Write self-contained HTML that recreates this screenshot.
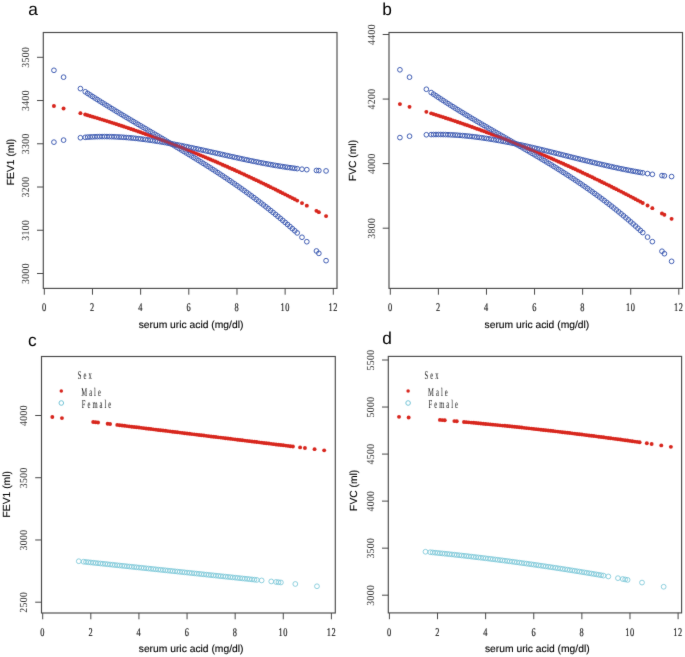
<!DOCTYPE html>
<html><head><meta charset="utf-8"><style>
html,body{margin:0;padding:0;background:#fff;}
body{width:685px;height:657px;overflow:hidden;}
svg{display:block;text-rendering:geometricPrecision;}
.tk{font-family:"Liberation Serif",serif;font-size:10.8px;fill:#111111;letter-spacing:0.4px;stroke:#111111;stroke-width:0.15px;}
.tkx{font-size:11.6px;letter-spacing:0.8px;}
.tky{stroke:none;fill:#3a3a3a;}
.ti{font-family:"Liberation Sans",sans-serif;font-size:10.3px;fill:#000000;stroke:#000000;stroke-width:0.12px;}
.lt{font-family:"Liberation Sans",sans-serif;font-size:17.3px;fill:#000000;}
.lg{font-family:"Liberation Serif",serif;font-size:11.8px;fill:#111;letter-spacing:3.55px;}
</style></head><body>
<svg width="685" height="657" viewBox="0 0 685 657">
<defs><filter id="bl" x="-2%" y="-2%" width="104%" height="104%"><feConvolveMatrix order="3" kernelMatrix="0.0064 0.0672 0.0064 0.0672 0.7056 0.0672 0.0064 0.0672 0.0064" edgeMode="none" preserveAlpha="false"/></filter></defs>
<rect width="685" height="657" fill="#fff"/>
<g filter="url(#bl)">
<rect x="43.3" y="32.5" width="293.70" height="255.90" fill="none" stroke="#4a4a4a" stroke-width="1.15"/>
<line x1="44.30" y1="288.4" x2="44.30" y2="294.70" stroke="#4a4a4a" stroke-width="1"/>
<text x="0" y="0" class="tk tkx" text-anchor="middle" transform="translate(44.30,311.00) scale(0.72,1)">0</text>
<line x1="92.47" y1="288.4" x2="92.47" y2="294.70" stroke="#4a4a4a" stroke-width="1"/>
<text x="0" y="0" class="tk tkx" text-anchor="middle" transform="translate(92.47,311.00) scale(0.72,1)">2</text>
<line x1="140.63" y1="288.4" x2="140.63" y2="294.70" stroke="#4a4a4a" stroke-width="1"/>
<text x="0" y="0" class="tk tkx" text-anchor="middle" transform="translate(140.63,311.00) scale(0.72,1)">4</text>
<line x1="188.80" y1="288.4" x2="188.80" y2="294.70" stroke="#4a4a4a" stroke-width="1"/>
<text x="0" y="0" class="tk tkx" text-anchor="middle" transform="translate(188.80,311.00) scale(0.72,1)">6</text>
<line x1="236.97" y1="288.4" x2="236.97" y2="294.70" stroke="#4a4a4a" stroke-width="1"/>
<text x="0" y="0" class="tk tkx" text-anchor="middle" transform="translate(236.97,311.00) scale(0.72,1)">8</text>
<line x1="285.13" y1="288.4" x2="285.13" y2="294.70" stroke="#4a4a4a" stroke-width="1"/>
<text x="0" y="0" class="tk tkx" text-anchor="middle" transform="translate(285.13,311.00) scale(0.72,1)">10</text>
<line x1="333.30" y1="288.4" x2="333.30" y2="294.70" stroke="#4a4a4a" stroke-width="1"/>
<text x="0" y="0" class="tk tkx" text-anchor="middle" transform="translate(333.30,311.00) scale(0.72,1)">12</text>
<line x1="37.00" y1="273.50" x2="43.3" y2="273.50" stroke="#4a4a4a" stroke-width="1"/>
<text x="0" y="0" class="tk tky" text-anchor="middle" transform="translate(28.90,273.50) rotate(-90) scale(0.9,1)">3000</text>
<line x1="37.00" y1="230.26" x2="43.3" y2="230.26" stroke="#4a4a4a" stroke-width="1"/>
<text x="0" y="0" class="tk tky" text-anchor="middle" transform="translate(28.90,230.26) rotate(-90) scale(0.9,1)">3100</text>
<line x1="37.00" y1="187.02" x2="43.3" y2="187.02" stroke="#4a4a4a" stroke-width="1"/>
<text x="0" y="0" class="tk tky" text-anchor="middle" transform="translate(28.90,187.02) rotate(-90) scale(0.9,1)">3200</text>
<line x1="37.00" y1="143.78" x2="43.3" y2="143.78" stroke="#4a4a4a" stroke-width="1"/>
<text x="0" y="0" class="tk tky" text-anchor="middle" transform="translate(28.90,143.78) rotate(-90) scale(0.9,1)">3300</text>
<line x1="37.00" y1="100.54" x2="43.3" y2="100.54" stroke="#4a4a4a" stroke-width="1"/>
<text x="0" y="0" class="tk tky" text-anchor="middle" transform="translate(28.90,100.54) rotate(-90) scale(0.9,1)">3400</text>
<line x1="37.00" y1="57.30" x2="43.3" y2="57.30" stroke="#4a4a4a" stroke-width="1"/>
<text x="0" y="0" class="tk tky" text-anchor="middle" transform="translate(28.90,57.30) rotate(-90) scale(0.9,1)">3500</text>
<text x="0" y="0" class="ti" text-anchor="middle" transform="translate(13.60,162.00) rotate(-90)">FEV1 (ml)</text>
<text x="191.00" y="327.50" class="ti" text-anchor="middle">serum uric acid (mg/dl)</text>
<text x="28.3" y="15.3" class="lt">a</text>
<g fill="#d8261e" stroke="none" opacity="1.0"><circle cx="53.93" cy="105.99" r="1.95"/><circle cx="63.57" cy="108.51" r="1.95"/><circle cx="80.42" cy="113.16" r="1.95"/><circle cx="85.24" cy="114.55" r="1.95"/><circle cx="87.65" cy="115.25" r="1.95"/><circle cx="90.06" cy="115.96" r="1.95"/><circle cx="92.47" cy="116.67" r="1.95"/><circle cx="94.88" cy="117.39" r="1.95"/><circle cx="97.28" cy="118.12" r="1.95"/><circle cx="99.69" cy="118.85" r="1.95"/><circle cx="102.10" cy="119.59" r="1.95"/><circle cx="104.51" cy="120.34" r="1.95"/><circle cx="106.92" cy="121.09" r="1.95"/><circle cx="109.33" cy="121.85" r="1.95"/><circle cx="111.73" cy="122.62" r="1.95"/><circle cx="114.14" cy="123.39" r="1.95"/><circle cx="116.55" cy="124.17" r="1.95"/><circle cx="118.96" cy="124.95" r="1.95"/><circle cx="121.37" cy="125.74" r="1.95"/><circle cx="123.77" cy="126.54" r="1.95"/><circle cx="126.18" cy="127.34" r="1.95"/><circle cx="128.59" cy="128.15" r="1.95"/><circle cx="131.00" cy="128.97" r="1.95"/><circle cx="133.41" cy="129.79" r="1.95"/><circle cx="135.82" cy="130.62" r="1.95"/><circle cx="138.22" cy="131.46" r="1.95"/><circle cx="140.63" cy="132.30" r="1.95"/><circle cx="143.04" cy="133.15" r="1.95"/><circle cx="145.45" cy="134.00" r="1.95"/><circle cx="147.86" cy="134.86" r="1.95"/><circle cx="150.27" cy="135.73" r="1.95"/><circle cx="152.68" cy="136.60" r="1.95"/><circle cx="155.08" cy="137.48" r="1.95"/><circle cx="157.49" cy="138.37" r="1.95"/><circle cx="159.90" cy="139.26" r="1.95"/><circle cx="162.31" cy="140.16" r="1.95"/><circle cx="164.72" cy="141.06" r="1.95"/><circle cx="167.12" cy="141.97" r="1.95"/><circle cx="169.53" cy="142.89" r="1.95"/><circle cx="171.94" cy="143.81" r="1.95"/><circle cx="174.35" cy="144.74" r="1.95"/><circle cx="176.76" cy="145.68" r="1.95"/><circle cx="179.17" cy="146.62" r="1.95"/><circle cx="181.57" cy="147.57" r="1.95"/><circle cx="183.98" cy="148.53" r="1.95"/><circle cx="186.39" cy="149.49" r="1.95"/><circle cx="188.80" cy="150.46" r="1.95"/><circle cx="191.21" cy="151.43" r="1.95"/><circle cx="193.62" cy="152.41" r="1.95"/><circle cx="196.02" cy="153.40" r="1.95"/><circle cx="198.43" cy="154.39" r="1.95"/><circle cx="200.84" cy="155.39" r="1.95"/><circle cx="203.25" cy="156.40" r="1.95"/><circle cx="205.66" cy="157.41" r="1.95"/><circle cx="208.07" cy="158.43" r="1.95"/><circle cx="210.48" cy="159.46" r="1.95"/><circle cx="212.88" cy="160.49" r="1.95"/><circle cx="215.29" cy="161.52" r="1.95"/><circle cx="217.70" cy="162.57" r="1.95"/><circle cx="220.11" cy="163.62" r="1.95"/><circle cx="222.52" cy="164.68" r="1.95"/><circle cx="224.93" cy="165.74" r="1.95"/><circle cx="227.33" cy="166.81" r="1.95"/><circle cx="229.74" cy="167.88" r="1.95"/><circle cx="232.15" cy="168.97" r="1.95"/><circle cx="234.56" cy="170.05" r="1.95"/><circle cx="236.97" cy="171.15" r="1.95"/><circle cx="239.38" cy="172.25" r="1.95"/><circle cx="241.78" cy="173.36" r="1.95"/><circle cx="244.19" cy="174.47" r="1.95"/><circle cx="246.60" cy="175.59" r="1.95"/><circle cx="249.01" cy="176.72" r="1.95"/><circle cx="251.42" cy="177.85" r="1.95"/><circle cx="253.82" cy="178.99" r="1.95"/><circle cx="256.23" cy="180.14" r="1.95"/><circle cx="258.64" cy="181.29" r="1.95"/><circle cx="261.05" cy="182.45" r="1.95"/><circle cx="263.46" cy="183.61" r="1.95"/><circle cx="265.87" cy="184.78" r="1.95"/><circle cx="268.27" cy="185.96" r="1.95"/><circle cx="270.68" cy="187.14" r="1.95"/><circle cx="273.09" cy="188.33" r="1.95"/><circle cx="275.50" cy="189.53" r="1.95"/><circle cx="277.91" cy="190.73" r="1.95"/><circle cx="280.32" cy="191.94" r="1.95"/><circle cx="282.72" cy="193.15" r="1.95"/><circle cx="285.13" cy="194.38" r="1.95"/><circle cx="287.54" cy="195.60" r="1.95"/><circle cx="289.95" cy="196.84" r="1.95"/><circle cx="292.36" cy="198.08" r="1.95"/><circle cx="294.77" cy="199.32" r="1.95"/><circle cx="297.18" cy="200.58" r="1.95"/><circle cx="301.99" cy="203.10" r="1.95"/><circle cx="306.81" cy="205.65" r="1.95"/><circle cx="316.44" cy="210.83" r="1.95"/><circle cx="318.85" cy="212.14" r="1.95"/><circle cx="326.07" cy="216.11" r="1.95"/></g>
<g fill="none" stroke="#3f5cb2" stroke-width="1.0"><circle cx="53.93" cy="142.14" r="2.35"/><circle cx="63.57" cy="140.12" r="2.35"/><circle cx="80.42" cy="137.74" r="2.35"/><circle cx="85.24" cy="137.31" r="2.35"/><circle cx="87.65" cy="137.13" r="2.35"/><circle cx="90.06" cy="136.98" r="2.35"/><circle cx="92.47" cy="136.86" r="2.35"/><circle cx="94.88" cy="136.76" r="2.35"/><circle cx="97.28" cy="136.68" r="2.35"/><circle cx="99.69" cy="136.63" r="2.35"/><circle cx="102.10" cy="136.60" r="2.35"/><circle cx="104.51" cy="136.60" r="2.35"/><circle cx="106.92" cy="136.61" r="2.35"/><circle cx="109.33" cy="136.65" r="2.35"/><circle cx="111.73" cy="136.71" r="2.35"/><circle cx="114.14" cy="136.79" r="2.35"/><circle cx="116.55" cy="136.90" r="2.35"/><circle cx="118.96" cy="137.02" r="2.35"/><circle cx="121.37" cy="137.16" r="2.35"/><circle cx="123.77" cy="137.32" r="2.35"/><circle cx="126.18" cy="137.50" r="2.35"/><circle cx="128.59" cy="137.70" r="2.35"/><circle cx="131.00" cy="137.91" r="2.35"/><circle cx="133.41" cy="138.14" r="2.35"/><circle cx="135.82" cy="138.39" r="2.35"/><circle cx="138.22" cy="138.66" r="2.35"/><circle cx="140.63" cy="138.94" r="2.35"/><circle cx="143.04" cy="139.24" r="2.35"/><circle cx="145.45" cy="139.55" r="2.35"/><circle cx="147.86" cy="139.88" r="2.35"/><circle cx="150.27" cy="140.21" r="2.35"/><circle cx="152.68" cy="140.57" r="2.35"/><circle cx="155.08" cy="140.93" r="2.35"/><circle cx="157.49" cy="141.31" r="2.35"/><circle cx="159.90" cy="141.70" r="2.35"/><circle cx="162.31" cy="142.11" r="2.35"/><circle cx="164.72" cy="142.52" r="2.35"/><circle cx="167.12" cy="142.95" r="2.35"/><circle cx="169.53" cy="143.38" r="2.35"/><circle cx="171.94" cy="143.82" r="2.35"/><circle cx="174.35" cy="144.28" r="2.35"/><circle cx="176.76" cy="144.74" r="2.35"/><circle cx="179.17" cy="145.21" r="2.35"/><circle cx="181.57" cy="145.69" r="2.35"/><circle cx="183.98" cy="146.17" r="2.35"/><circle cx="186.39" cy="146.67" r="2.35"/><circle cx="188.80" cy="147.17" r="2.35"/><circle cx="191.21" cy="147.67" r="2.35"/><circle cx="193.62" cy="148.18" r="2.35"/><circle cx="196.02" cy="148.70" r="2.35"/><circle cx="198.43" cy="149.22" r="2.35"/><circle cx="200.84" cy="149.74" r="2.35"/><circle cx="203.25" cy="150.27" r="2.35"/><circle cx="205.66" cy="150.80" r="2.35"/><circle cx="208.07" cy="151.33" r="2.35"/><circle cx="210.48" cy="151.87" r="2.35"/><circle cx="212.88" cy="152.41" r="2.35"/><circle cx="215.29" cy="152.94" r="2.35"/><circle cx="217.70" cy="153.48" r="2.35"/><circle cx="220.11" cy="154.02" r="2.35"/><circle cx="222.52" cy="154.56" r="2.35"/><circle cx="224.93" cy="155.10" r="2.35"/><circle cx="227.33" cy="155.64" r="2.35"/><circle cx="229.74" cy="156.18" r="2.35"/><circle cx="232.15" cy="156.71" r="2.35"/><circle cx="234.56" cy="157.24" r="2.35"/><circle cx="236.97" cy="157.77" r="2.35"/><circle cx="239.38" cy="158.29" r="2.35"/><circle cx="241.78" cy="158.82" r="2.35"/><circle cx="244.19" cy="159.33" r="2.35"/><circle cx="246.60" cy="159.84" r="2.35"/><circle cx="249.01" cy="160.35" r="2.35"/><circle cx="251.42" cy="160.85" r="2.35"/><circle cx="253.82" cy="161.35" r="2.35"/><circle cx="256.23" cy="161.83" r="2.35"/><circle cx="258.64" cy="162.31" r="2.35"/><circle cx="261.05" cy="162.79" r="2.35"/><circle cx="263.46" cy="163.25" r="2.35"/><circle cx="265.87" cy="163.71" r="2.35"/><circle cx="268.27" cy="164.16" r="2.35"/><circle cx="270.68" cy="164.59" r="2.35"/><circle cx="273.09" cy="165.02" r="2.35"/><circle cx="275.50" cy="165.44" r="2.35"/><circle cx="277.91" cy="165.84" r="2.35"/><circle cx="280.32" cy="166.24" r="2.35"/><circle cx="282.72" cy="166.62" r="2.35"/><circle cx="285.13" cy="166.99" r="2.35"/><circle cx="287.54" cy="167.35" r="2.35"/><circle cx="289.95" cy="167.69" r="2.35"/><circle cx="292.36" cy="168.02" r="2.35"/><circle cx="294.77" cy="168.34" r="2.35"/><circle cx="297.18" cy="168.64" r="2.35"/><circle cx="301.99" cy="169.19" r="2.35"/><circle cx="306.81" cy="169.68" r="2.35"/><circle cx="316.44" cy="170.46" r="2.35"/><circle cx="318.85" cy="170.60" r="2.35"/><circle cx="326.07" cy="170.93" r="2.35"/></g>
<g fill="none" stroke="#3f5cb2" stroke-width="1.0"><circle cx="53.93" cy="70.29" r="2.35"/><circle cx="63.57" cy="77.16" r="2.35"/><circle cx="80.42" cy="88.63" r="2.35"/><circle cx="85.24" cy="91.80" r="2.35"/><circle cx="87.65" cy="93.37" r="2.35"/><circle cx="90.06" cy="94.92" r="2.35"/><circle cx="92.47" cy="96.46" r="2.35"/><circle cx="94.88" cy="98.00" r="2.35"/><circle cx="97.28" cy="99.52" r="2.35"/><circle cx="99.69" cy="101.04" r="2.35"/><circle cx="102.10" cy="102.55" r="2.35"/><circle cx="104.51" cy="104.05" r="2.35"/><circle cx="106.92" cy="105.54" r="2.35"/><circle cx="109.33" cy="107.02" r="2.35"/><circle cx="111.73" cy="108.50" r="2.35"/><circle cx="114.14" cy="109.97" r="2.35"/><circle cx="116.55" cy="111.43" r="2.35"/><circle cx="118.96" cy="112.89" r="2.35"/><circle cx="121.37" cy="114.34" r="2.35"/><circle cx="123.77" cy="115.79" r="2.35"/><circle cx="126.18" cy="117.23" r="2.35"/><circle cx="128.59" cy="118.67" r="2.35"/><circle cx="131.00" cy="120.10" r="2.35"/><circle cx="133.41" cy="121.53" r="2.35"/><circle cx="135.82" cy="122.96" r="2.35"/><circle cx="138.22" cy="124.38" r="2.35"/><circle cx="140.63" cy="125.81" r="2.35"/><circle cx="143.04" cy="127.23" r="2.35"/><circle cx="145.45" cy="128.65" r="2.35"/><circle cx="147.86" cy="130.07" r="2.35"/><circle cx="150.27" cy="131.49" r="2.35"/><circle cx="152.68" cy="132.90" r="2.35"/><circle cx="155.08" cy="134.32" r="2.35"/><circle cx="157.49" cy="135.74" r="2.35"/><circle cx="159.90" cy="137.16" r="2.35"/><circle cx="162.31" cy="138.58" r="2.35"/><circle cx="164.72" cy="140.00" r="2.35"/><circle cx="167.12" cy="141.43" r="2.35"/><circle cx="169.53" cy="142.86" r="2.35"/><circle cx="171.94" cy="144.29" r="2.35"/><circle cx="174.35" cy="145.72" r="2.35"/><circle cx="176.76" cy="147.16" r="2.35"/><circle cx="179.17" cy="148.60" r="2.35"/><circle cx="181.57" cy="150.05" r="2.35"/><circle cx="183.98" cy="151.50" r="2.35"/><circle cx="186.39" cy="152.96" r="2.35"/><circle cx="188.80" cy="154.42" r="2.35"/><circle cx="191.21" cy="155.89" r="2.35"/><circle cx="193.62" cy="157.37" r="2.35"/><circle cx="196.02" cy="158.85" r="2.35"/><circle cx="198.43" cy="160.34" r="2.35"/><circle cx="200.84" cy="161.84" r="2.35"/><circle cx="203.25" cy="163.35" r="2.35"/><circle cx="205.66" cy="164.86" r="2.35"/><circle cx="208.07" cy="166.39" r="2.35"/><circle cx="210.48" cy="167.92" r="2.35"/><circle cx="212.88" cy="169.46" r="2.35"/><circle cx="215.29" cy="171.02" r="2.35"/><circle cx="217.70" cy="172.58" r="2.35"/><circle cx="220.11" cy="174.16" r="2.35"/><circle cx="222.52" cy="175.75" r="2.35"/><circle cx="224.93" cy="177.35" r="2.35"/><circle cx="227.33" cy="178.96" r="2.35"/><circle cx="229.74" cy="180.58" r="2.35"/><circle cx="232.15" cy="182.22" r="2.35"/><circle cx="234.56" cy="183.87" r="2.35"/><circle cx="236.97" cy="185.54" r="2.35"/><circle cx="239.38" cy="187.22" r="2.35"/><circle cx="241.78" cy="188.91" r="2.35"/><circle cx="244.19" cy="190.62" r="2.35"/><circle cx="246.60" cy="192.35" r="2.35"/><circle cx="249.01" cy="194.09" r="2.35"/><circle cx="251.42" cy="195.85" r="2.35"/><circle cx="253.82" cy="197.62" r="2.35"/><circle cx="256.23" cy="199.41" r="2.35"/><circle cx="258.64" cy="201.22" r="2.35"/><circle cx="261.05" cy="203.05" r="2.35"/><circle cx="263.46" cy="204.90" r="2.35"/><circle cx="265.87" cy="206.76" r="2.35"/><circle cx="268.27" cy="208.64" r="2.35"/><circle cx="270.68" cy="210.55" r="2.35"/><circle cx="273.09" cy="212.47" r="2.35"/><circle cx="275.50" cy="214.42" r="2.35"/><circle cx="277.91" cy="216.38" r="2.35"/><circle cx="280.32" cy="218.37" r="2.35"/><circle cx="282.72" cy="220.37" r="2.35"/><circle cx="285.13" cy="222.40" r="2.35"/><circle cx="287.54" cy="224.46" r="2.35"/><circle cx="289.95" cy="226.53" r="2.35"/><circle cx="292.36" cy="228.63" r="2.35"/><circle cx="294.77" cy="230.75" r="2.35"/><circle cx="297.18" cy="232.90" r="2.35"/><circle cx="301.99" cy="237.26" r="2.35"/><circle cx="306.81" cy="241.73" r="2.35"/><circle cx="316.44" cy="250.98" r="2.35"/><circle cx="318.85" cy="253.36" r="2.35"/><circle cx="326.07" cy="260.67" r="2.35"/></g>
<g fill="#d8261e" stroke="none" opacity="0.6"><circle cx="53.93" cy="105.99" r="1.6"/><circle cx="63.57" cy="108.51" r="1.6"/><circle cx="80.42" cy="113.16" r="1.6"/><circle cx="85.24" cy="114.55" r="1.6"/><circle cx="87.65" cy="115.25" r="1.6"/><circle cx="90.06" cy="115.96" r="1.6"/><circle cx="92.47" cy="116.67" r="1.6"/><circle cx="94.88" cy="117.39" r="1.6"/><circle cx="97.28" cy="118.12" r="1.6"/><circle cx="99.69" cy="118.85" r="1.6"/><circle cx="102.10" cy="119.59" r="1.6"/><circle cx="104.51" cy="120.34" r="1.6"/><circle cx="106.92" cy="121.09" r="1.6"/><circle cx="109.33" cy="121.85" r="1.6"/><circle cx="111.73" cy="122.62" r="1.6"/><circle cx="114.14" cy="123.39" r="1.6"/><circle cx="116.55" cy="124.17" r="1.6"/><circle cx="118.96" cy="124.95" r="1.6"/><circle cx="121.37" cy="125.74" r="1.6"/><circle cx="123.77" cy="126.54" r="1.6"/><circle cx="126.18" cy="127.34" r="1.6"/><circle cx="128.59" cy="128.15" r="1.6"/><circle cx="131.00" cy="128.97" r="1.6"/><circle cx="133.41" cy="129.79" r="1.6"/><circle cx="135.82" cy="130.62" r="1.6"/><circle cx="138.22" cy="131.46" r="1.6"/><circle cx="140.63" cy="132.30" r="1.6"/><circle cx="143.04" cy="133.15" r="1.6"/><circle cx="145.45" cy="134.00" r="1.6"/><circle cx="147.86" cy="134.86" r="1.6"/><circle cx="150.27" cy="135.73" r="1.6"/><circle cx="152.68" cy="136.60" r="1.6"/><circle cx="155.08" cy="137.48" r="1.6"/><circle cx="157.49" cy="138.37" r="1.6"/><circle cx="159.90" cy="139.26" r="1.6"/><circle cx="162.31" cy="140.16" r="1.6"/><circle cx="164.72" cy="141.06" r="1.6"/><circle cx="167.12" cy="141.97" r="1.6"/><circle cx="169.53" cy="142.89" r="1.6"/><circle cx="171.94" cy="143.81" r="1.6"/><circle cx="174.35" cy="144.74" r="1.6"/><circle cx="176.76" cy="145.68" r="1.6"/><circle cx="179.17" cy="146.62" r="1.6"/><circle cx="181.57" cy="147.57" r="1.6"/><circle cx="183.98" cy="148.53" r="1.6"/><circle cx="186.39" cy="149.49" r="1.6"/><circle cx="188.80" cy="150.46" r="1.6"/><circle cx="191.21" cy="151.43" r="1.6"/><circle cx="193.62" cy="152.41" r="1.6"/><circle cx="196.02" cy="153.40" r="1.6"/><circle cx="198.43" cy="154.39" r="1.6"/><circle cx="200.84" cy="155.39" r="1.6"/><circle cx="203.25" cy="156.40" r="1.6"/><circle cx="205.66" cy="157.41" r="1.6"/><circle cx="208.07" cy="158.43" r="1.6"/><circle cx="210.48" cy="159.46" r="1.6"/><circle cx="212.88" cy="160.49" r="1.6"/><circle cx="215.29" cy="161.52" r="1.6"/><circle cx="217.70" cy="162.57" r="1.6"/><circle cx="220.11" cy="163.62" r="1.6"/><circle cx="222.52" cy="164.68" r="1.6"/><circle cx="224.93" cy="165.74" r="1.6"/><circle cx="227.33" cy="166.81" r="1.6"/><circle cx="229.74" cy="167.88" r="1.6"/><circle cx="232.15" cy="168.97" r="1.6"/><circle cx="234.56" cy="170.05" r="1.6"/><circle cx="236.97" cy="171.15" r="1.6"/><circle cx="239.38" cy="172.25" r="1.6"/><circle cx="241.78" cy="173.36" r="1.6"/><circle cx="244.19" cy="174.47" r="1.6"/><circle cx="246.60" cy="175.59" r="1.6"/><circle cx="249.01" cy="176.72" r="1.6"/><circle cx="251.42" cy="177.85" r="1.6"/><circle cx="253.82" cy="178.99" r="1.6"/><circle cx="256.23" cy="180.14" r="1.6"/><circle cx="258.64" cy="181.29" r="1.6"/><circle cx="261.05" cy="182.45" r="1.6"/><circle cx="263.46" cy="183.61" r="1.6"/><circle cx="265.87" cy="184.78" r="1.6"/><circle cx="268.27" cy="185.96" r="1.6"/><circle cx="270.68" cy="187.14" r="1.6"/><circle cx="273.09" cy="188.33" r="1.6"/><circle cx="275.50" cy="189.53" r="1.6"/><circle cx="277.91" cy="190.73" r="1.6"/><circle cx="280.32" cy="191.94" r="1.6"/><circle cx="282.72" cy="193.15" r="1.6"/><circle cx="285.13" cy="194.38" r="1.6"/><circle cx="287.54" cy="195.60" r="1.6"/><circle cx="289.95" cy="196.84" r="1.6"/><circle cx="292.36" cy="198.08" r="1.6"/><circle cx="294.77" cy="199.32" r="1.6"/><circle cx="297.18" cy="200.58" r="1.6"/><circle cx="301.99" cy="203.10" r="1.6"/><circle cx="306.81" cy="205.65" r="1.6"/><circle cx="316.44" cy="210.83" r="1.6"/><circle cx="318.85" cy="212.14" r="1.6"/><circle cx="326.07" cy="216.11" r="1.6"/></g>
<rect x="389.0" y="32.5" width="293.50" height="255.90" fill="none" stroke="#4a4a4a" stroke-width="1.15"/>
<line x1="390.30" y1="288.4" x2="390.30" y2="294.70" stroke="#4a4a4a" stroke-width="1"/>
<text x="0" y="0" class="tk tkx" text-anchor="middle" transform="translate(390.30,311.00) scale(0.72,1)">0</text>
<line x1="438.38" y1="288.4" x2="438.38" y2="294.70" stroke="#4a4a4a" stroke-width="1"/>
<text x="0" y="0" class="tk tkx" text-anchor="middle" transform="translate(438.38,311.00) scale(0.72,1)">2</text>
<line x1="486.47" y1="288.4" x2="486.47" y2="294.70" stroke="#4a4a4a" stroke-width="1"/>
<text x="0" y="0" class="tk tkx" text-anchor="middle" transform="translate(486.47,311.00) scale(0.72,1)">4</text>
<line x1="534.55" y1="288.4" x2="534.55" y2="294.70" stroke="#4a4a4a" stroke-width="1"/>
<text x="0" y="0" class="tk tkx" text-anchor="middle" transform="translate(534.55,311.00) scale(0.72,1)">6</text>
<line x1="582.63" y1="288.4" x2="582.63" y2="294.70" stroke="#4a4a4a" stroke-width="1"/>
<text x="0" y="0" class="tk tkx" text-anchor="middle" transform="translate(582.63,311.00) scale(0.72,1)">8</text>
<line x1="630.72" y1="288.4" x2="630.72" y2="294.70" stroke="#4a4a4a" stroke-width="1"/>
<text x="0" y="0" class="tk tkx" text-anchor="middle" transform="translate(630.72,311.00) scale(0.72,1)">10</text>
<line x1="678.80" y1="288.4" x2="678.80" y2="294.70" stroke="#4a4a4a" stroke-width="1"/>
<text x="0" y="0" class="tk tkx" text-anchor="middle" transform="translate(678.80,311.00) scale(0.72,1)">12</text>
<line x1="382.70" y1="228.20" x2="389.0" y2="228.20" stroke="#4a4a4a" stroke-width="1"/>
<text x="0" y="0" class="tk tky" text-anchor="middle" transform="translate(374.60,228.20) rotate(-90) scale(0.9,1)">3800</text>
<line x1="382.70" y1="163.63" x2="389.0" y2="163.63" stroke="#4a4a4a" stroke-width="1"/>
<text x="0" y="0" class="tk tky" text-anchor="middle" transform="translate(374.60,163.63) rotate(-90) scale(0.9,1)">4000</text>
<line x1="382.70" y1="99.07" x2="389.0" y2="99.07" stroke="#4a4a4a" stroke-width="1"/>
<text x="0" y="0" class="tk tky" text-anchor="middle" transform="translate(374.60,99.07) rotate(-90) scale(0.9,1)">4200</text>
<line x1="382.70" y1="34.50" x2="389.0" y2="34.50" stroke="#4a4a4a" stroke-width="1"/>
<text x="0" y="0" class="tk tky" text-anchor="middle" transform="translate(374.60,34.50) rotate(-90) scale(0.9,1)">4400</text>
<text x="0" y="0" class="ti" text-anchor="middle" transform="translate(356.00,160.50) rotate(-90)">FVC (ml)</text>
<text x="536.90" y="327.70" class="ti" text-anchor="middle">serum uric acid (mg/dl)</text>
<text x="382.2" y="15.3" class="lt">b</text>
<g fill="#d8261e" stroke="none" opacity="1.0"><circle cx="399.92" cy="104.11" r="1.95"/><circle cx="409.53" cy="106.84" r="1.95"/><circle cx="426.36" cy="111.85" r="1.95"/><circle cx="431.17" cy="113.34" r="1.95"/><circle cx="433.57" cy="114.09" r="1.95"/><circle cx="435.98" cy="114.85" r="1.95"/><circle cx="438.38" cy="115.62" r="1.95"/><circle cx="440.79" cy="116.39" r="1.95"/><circle cx="443.19" cy="117.17" r="1.95"/><circle cx="445.60" cy="117.95" r="1.95"/><circle cx="448.00" cy="118.74" r="1.95"/><circle cx="450.40" cy="119.54" r="1.95"/><circle cx="452.81" cy="120.34" r="1.95"/><circle cx="455.21" cy="121.15" r="1.95"/><circle cx="457.62" cy="121.96" r="1.95"/><circle cx="460.02" cy="122.78" r="1.95"/><circle cx="462.43" cy="123.61" r="1.95"/><circle cx="464.83" cy="124.44" r="1.95"/><circle cx="467.23" cy="125.28" r="1.95"/><circle cx="469.64" cy="126.12" r="1.95"/><circle cx="472.04" cy="126.97" r="1.95"/><circle cx="474.45" cy="127.83" r="1.95"/><circle cx="476.85" cy="128.69" r="1.95"/><circle cx="479.25" cy="129.56" r="1.95"/><circle cx="481.66" cy="130.43" r="1.95"/><circle cx="484.06" cy="131.32" r="1.95"/><circle cx="486.47" cy="132.20" r="1.95"/><circle cx="488.87" cy="133.10" r="1.95"/><circle cx="491.27" cy="133.99" r="1.95"/><circle cx="493.68" cy="134.90" r="1.95"/><circle cx="496.08" cy="135.81" r="1.95"/><circle cx="498.49" cy="136.73" r="1.95"/><circle cx="500.89" cy="137.65" r="1.95"/><circle cx="503.30" cy="138.58" r="1.95"/><circle cx="505.70" cy="139.52" r="1.95"/><circle cx="508.10" cy="140.46" r="1.95"/><circle cx="510.51" cy="141.41" r="1.95"/><circle cx="512.91" cy="142.36" r="1.95"/><circle cx="515.32" cy="143.32" r="1.95"/><circle cx="517.72" cy="144.29" r="1.95"/><circle cx="520.12" cy="145.26" r="1.95"/><circle cx="522.53" cy="146.24" r="1.95"/><circle cx="524.93" cy="147.23" r="1.95"/><circle cx="527.34" cy="148.22" r="1.95"/><circle cx="529.74" cy="149.21" r="1.95"/><circle cx="532.15" cy="150.22" r="1.95"/><circle cx="534.55" cy="151.23" r="1.95"/><circle cx="536.95" cy="152.24" r="1.95"/><circle cx="539.36" cy="153.26" r="1.95"/><circle cx="541.76" cy="154.29" r="1.95"/><circle cx="544.17" cy="155.33" r="1.95"/><circle cx="546.57" cy="156.36" r="1.95"/><circle cx="548.97" cy="157.41" r="1.95"/><circle cx="551.38" cy="158.46" r="1.95"/><circle cx="553.78" cy="159.52" r="1.95"/><circle cx="556.19" cy="160.58" r="1.95"/><circle cx="558.59" cy="161.66" r="1.95"/><circle cx="561.00" cy="162.73" r="1.95"/><circle cx="563.40" cy="163.81" r="1.95"/><circle cx="565.80" cy="164.90" r="1.95"/><circle cx="568.21" cy="166.00" r="1.95"/><circle cx="570.61" cy="167.10" r="1.95"/><circle cx="573.02" cy="168.20" r="1.95"/><circle cx="575.42" cy="169.32" r="1.95"/><circle cx="577.82" cy="170.44" r="1.95"/><circle cx="580.23" cy="171.56" r="1.95"/><circle cx="582.63" cy="172.69" r="1.95"/><circle cx="585.04" cy="173.83" r="1.95"/><circle cx="587.44" cy="174.97" r="1.95"/><circle cx="589.85" cy="176.12" r="1.95"/><circle cx="592.25" cy="177.28" r="1.95"/><circle cx="594.65" cy="178.44" r="1.95"/><circle cx="597.06" cy="179.61" r="1.95"/><circle cx="599.46" cy="180.78" r="1.95"/><circle cx="601.87" cy="181.96" r="1.95"/><circle cx="604.27" cy="183.15" r="1.95"/><circle cx="606.67" cy="184.34" r="1.95"/><circle cx="609.08" cy="185.54" r="1.95"/><circle cx="611.48" cy="186.74" r="1.95"/><circle cx="613.89" cy="187.96" r="1.95"/><circle cx="616.29" cy="189.17" r="1.95"/><circle cx="618.70" cy="190.39" r="1.95"/><circle cx="621.10" cy="191.62" r="1.95"/><circle cx="623.50" cy="192.86" r="1.95"/><circle cx="625.91" cy="194.10" r="1.95"/><circle cx="628.31" cy="195.35" r="1.95"/><circle cx="630.72" cy="196.60" r="1.95"/><circle cx="633.12" cy="197.86" r="1.95"/><circle cx="635.52" cy="199.13" r="1.95"/><circle cx="637.93" cy="200.40" r="1.95"/><circle cx="640.33" cy="201.67" r="1.95"/><circle cx="642.74" cy="202.96" r="1.95"/><circle cx="647.55" cy="205.54" r="1.95"/><circle cx="652.35" cy="208.16" r="1.95"/><circle cx="661.97" cy="213.45" r="1.95"/><circle cx="664.38" cy="214.79" r="1.95"/><circle cx="671.59" cy="218.84" r="1.95"/></g>
<g fill="none" stroke="#3f5cb2" stroke-width="1.0"><circle cx="399.92" cy="137.60" r="2.35"/><circle cx="409.53" cy="136.20" r="2.35"/><circle cx="426.36" cy="134.78" r="2.35"/><circle cx="431.17" cy="134.60" r="2.35"/><circle cx="433.57" cy="134.55" r="2.35"/><circle cx="435.98" cy="134.52" r="2.35"/><circle cx="438.38" cy="134.51" r="2.35"/><circle cx="440.79" cy="134.52" r="2.35"/><circle cx="443.19" cy="134.56" r="2.35"/><circle cx="445.60" cy="134.61" r="2.35"/><circle cx="448.00" cy="134.69" r="2.35"/><circle cx="450.40" cy="134.79" r="2.35"/><circle cx="452.81" cy="134.91" r="2.35"/><circle cx="455.21" cy="135.05" r="2.35"/><circle cx="457.62" cy="135.21" r="2.35"/><circle cx="460.02" cy="135.39" r="2.35"/><circle cx="462.43" cy="135.58" r="2.35"/><circle cx="464.83" cy="135.80" r="2.35"/><circle cx="467.23" cy="136.03" r="2.35"/><circle cx="469.64" cy="136.28" r="2.35"/><circle cx="472.04" cy="136.54" r="2.35"/><circle cx="474.45" cy="136.83" r="2.35"/><circle cx="476.85" cy="137.12" r="2.35"/><circle cx="479.25" cy="137.44" r="2.35"/><circle cx="481.66" cy="137.77" r="2.35"/><circle cx="484.06" cy="138.11" r="2.35"/><circle cx="486.47" cy="138.47" r="2.35"/><circle cx="488.87" cy="138.84" r="2.35"/><circle cx="491.27" cy="139.23" r="2.35"/><circle cx="493.68" cy="139.63" r="2.35"/><circle cx="496.08" cy="140.04" r="2.35"/><circle cx="498.49" cy="140.47" r="2.35"/><circle cx="500.89" cy="140.90" r="2.35"/><circle cx="503.30" cy="141.35" r="2.35"/><circle cx="505.70" cy="141.81" r="2.35"/><circle cx="508.10" cy="142.28" r="2.35"/><circle cx="510.51" cy="142.76" r="2.35"/><circle cx="512.91" cy="143.25" r="2.35"/><circle cx="515.32" cy="143.75" r="2.35"/><circle cx="517.72" cy="144.26" r="2.35"/><circle cx="520.12" cy="144.77" r="2.35"/><circle cx="522.53" cy="145.30" r="2.35"/><circle cx="524.93" cy="145.83" r="2.35"/><circle cx="527.34" cy="146.37" r="2.35"/><circle cx="529.74" cy="146.92" r="2.35"/><circle cx="532.15" cy="147.47" r="2.35"/><circle cx="534.55" cy="148.03" r="2.35"/><circle cx="536.95" cy="148.60" r="2.35"/><circle cx="539.36" cy="149.17" r="2.35"/><circle cx="541.76" cy="149.74" r="2.35"/><circle cx="544.17" cy="150.32" r="2.35"/><circle cx="546.57" cy="150.91" r="2.35"/><circle cx="548.97" cy="151.50" r="2.35"/><circle cx="551.38" cy="152.09" r="2.35"/><circle cx="553.78" cy="152.68" r="2.35"/><circle cx="556.19" cy="153.28" r="2.35"/><circle cx="558.59" cy="153.87" r="2.35"/><circle cx="561.00" cy="154.47" r="2.35"/><circle cx="563.40" cy="155.08" r="2.35"/><circle cx="565.80" cy="155.68" r="2.35"/><circle cx="568.21" cy="156.28" r="2.35"/><circle cx="570.61" cy="156.88" r="2.35"/><circle cx="573.02" cy="157.48" r="2.35"/><circle cx="575.42" cy="158.08" r="2.35"/><circle cx="577.82" cy="158.68" r="2.35"/><circle cx="580.23" cy="159.28" r="2.35"/><circle cx="582.63" cy="159.87" r="2.35"/><circle cx="585.04" cy="160.47" r="2.35"/><circle cx="587.44" cy="161.05" r="2.35"/><circle cx="589.85" cy="161.64" r="2.35"/><circle cx="592.25" cy="162.22" r="2.35"/><circle cx="594.65" cy="162.80" r="2.35"/><circle cx="597.06" cy="163.37" r="2.35"/><circle cx="599.46" cy="163.94" r="2.35"/><circle cx="601.87" cy="164.51" r="2.35"/><circle cx="604.27" cy="165.06" r="2.35"/><circle cx="606.67" cy="165.61" r="2.35"/><circle cx="609.08" cy="166.16" r="2.35"/><circle cx="611.48" cy="166.69" r="2.35"/><circle cx="613.89" cy="167.22" r="2.35"/><circle cx="616.29" cy="167.74" r="2.35"/><circle cx="618.70" cy="168.26" r="2.35"/><circle cx="621.10" cy="168.76" r="2.35"/><circle cx="623.50" cy="169.25" r="2.35"/><circle cx="625.91" cy="169.74" r="2.35"/><circle cx="628.31" cy="170.21" r="2.35"/><circle cx="630.72" cy="170.68" r="2.35"/><circle cx="633.12" cy="171.13" r="2.35"/><circle cx="635.52" cy="171.57" r="2.35"/><circle cx="637.93" cy="172.00" r="2.35"/><circle cx="640.33" cy="172.42" r="2.35"/><circle cx="642.74" cy="172.83" r="2.35"/><circle cx="647.55" cy="173.60" r="2.35"/><circle cx="652.35" cy="174.32" r="2.35"/><circle cx="661.97" cy="175.57" r="2.35"/><circle cx="664.38" cy="175.85" r="2.35"/><circle cx="671.59" cy="176.57" r="2.35"/></g>
<g fill="none" stroke="#3f5cb2" stroke-width="1.0"><circle cx="399.92" cy="69.81" r="2.35"/><circle cx="409.53" cy="77.16" r="2.35"/><circle cx="426.36" cy="89.25" r="2.35"/><circle cx="431.17" cy="92.55" r="2.35"/><circle cx="433.57" cy="94.17" r="2.35"/><circle cx="435.98" cy="95.78" r="2.35"/><circle cx="438.38" cy="97.37" r="2.35"/><circle cx="440.79" cy="98.95" r="2.35"/><circle cx="443.19" cy="100.52" r="2.35"/><circle cx="445.60" cy="102.07" r="2.35"/><circle cx="448.00" cy="103.61" r="2.35"/><circle cx="450.40" cy="105.14" r="2.35"/><circle cx="452.81" cy="106.65" r="2.35"/><circle cx="455.21" cy="108.15" r="2.35"/><circle cx="457.62" cy="109.65" r="2.35"/><circle cx="460.02" cy="111.13" r="2.35"/><circle cx="462.43" cy="112.60" r="2.35"/><circle cx="464.83" cy="114.07" r="2.35"/><circle cx="467.23" cy="115.52" r="2.35"/><circle cx="469.64" cy="116.97" r="2.35"/><circle cx="472.04" cy="118.41" r="2.35"/><circle cx="474.45" cy="119.84" r="2.35"/><circle cx="476.85" cy="121.26" r="2.35"/><circle cx="479.25" cy="122.68" r="2.35"/><circle cx="481.66" cy="124.10" r="2.35"/><circle cx="484.06" cy="125.50" r="2.35"/><circle cx="486.47" cy="126.91" r="2.35"/><circle cx="488.87" cy="128.31" r="2.35"/><circle cx="491.27" cy="129.70" r="2.35"/><circle cx="493.68" cy="131.09" r="2.35"/><circle cx="496.08" cy="132.48" r="2.35"/><circle cx="498.49" cy="133.87" r="2.35"/><circle cx="500.89" cy="135.26" r="2.35"/><circle cx="503.30" cy="136.64" r="2.35"/><circle cx="505.70" cy="138.03" r="2.35"/><circle cx="508.10" cy="139.41" r="2.35"/><circle cx="510.51" cy="140.80" r="2.35"/><circle cx="512.91" cy="142.18" r="2.35"/><circle cx="515.32" cy="143.57" r="2.35"/><circle cx="517.72" cy="144.96" r="2.35"/><circle cx="520.12" cy="146.35" r="2.35"/><circle cx="522.53" cy="147.75" r="2.35"/><circle cx="524.93" cy="149.14" r="2.35"/><circle cx="527.34" cy="150.55" r="2.35"/><circle cx="529.74" cy="151.95" r="2.35"/><circle cx="532.15" cy="153.36" r="2.35"/><circle cx="534.55" cy="154.78" r="2.35"/><circle cx="536.95" cy="156.21" r="2.35"/><circle cx="539.36" cy="157.64" r="2.35"/><circle cx="541.76" cy="159.07" r="2.35"/><circle cx="544.17" cy="160.52" r="2.35"/><circle cx="546.57" cy="161.97" r="2.35"/><circle cx="548.97" cy="163.43" r="2.35"/><circle cx="551.38" cy="164.90" r="2.35"/><circle cx="553.78" cy="166.38" r="2.35"/><circle cx="556.19" cy="167.87" r="2.35"/><circle cx="558.59" cy="169.37" r="2.35"/><circle cx="561.00" cy="170.88" r="2.35"/><circle cx="563.40" cy="172.41" r="2.35"/><circle cx="565.80" cy="173.94" r="2.35"/><circle cx="568.21" cy="175.49" r="2.35"/><circle cx="570.61" cy="177.05" r="2.35"/><circle cx="573.02" cy="178.63" r="2.35"/><circle cx="575.42" cy="180.22" r="2.35"/><circle cx="577.82" cy="181.82" r="2.35"/><circle cx="580.23" cy="183.44" r="2.35"/><circle cx="582.63" cy="185.08" r="2.35"/><circle cx="585.04" cy="186.73" r="2.35"/><circle cx="587.44" cy="188.40" r="2.35"/><circle cx="589.85" cy="190.08" r="2.35"/><circle cx="592.25" cy="191.79" r="2.35"/><circle cx="594.65" cy="193.51" r="2.35"/><circle cx="597.06" cy="195.25" r="2.35"/><circle cx="599.46" cy="197.01" r="2.35"/><circle cx="601.87" cy="198.79" r="2.35"/><circle cx="604.27" cy="200.59" r="2.35"/><circle cx="606.67" cy="202.41" r="2.35"/><circle cx="609.08" cy="204.25" r="2.35"/><circle cx="611.48" cy="206.12" r="2.35"/><circle cx="613.89" cy="208.01" r="2.35"/><circle cx="616.29" cy="209.91" r="2.35"/><circle cx="618.70" cy="211.85" r="2.35"/><circle cx="621.10" cy="213.80" r="2.35"/><circle cx="623.50" cy="215.79" r="2.35"/><circle cx="625.91" cy="217.79" r="2.35"/><circle cx="628.31" cy="219.82" r="2.35"/><circle cx="630.72" cy="221.88" r="2.35"/><circle cx="633.12" cy="223.97" r="2.35"/><circle cx="635.52" cy="226.08" r="2.35"/><circle cx="637.93" cy="228.22" r="2.35"/><circle cx="640.33" cy="230.38" r="2.35"/><circle cx="642.74" cy="232.58" r="2.35"/><circle cx="647.55" cy="237.06" r="2.35"/><circle cx="652.35" cy="241.65" r="2.35"/><circle cx="661.97" cy="251.23" r="2.35"/><circle cx="664.38" cy="253.70" r="2.35"/><circle cx="671.59" cy="261.33" r="2.35"/></g>
<g fill="#d8261e" stroke="none" opacity="0.6"><circle cx="399.92" cy="104.11" r="1.6"/><circle cx="409.53" cy="106.84" r="1.6"/><circle cx="426.36" cy="111.85" r="1.6"/><circle cx="431.17" cy="113.34" r="1.6"/><circle cx="433.57" cy="114.09" r="1.6"/><circle cx="435.98" cy="114.85" r="1.6"/><circle cx="438.38" cy="115.62" r="1.6"/><circle cx="440.79" cy="116.39" r="1.6"/><circle cx="443.19" cy="117.17" r="1.6"/><circle cx="445.60" cy="117.95" r="1.6"/><circle cx="448.00" cy="118.74" r="1.6"/><circle cx="450.40" cy="119.54" r="1.6"/><circle cx="452.81" cy="120.34" r="1.6"/><circle cx="455.21" cy="121.15" r="1.6"/><circle cx="457.62" cy="121.96" r="1.6"/><circle cx="460.02" cy="122.78" r="1.6"/><circle cx="462.43" cy="123.61" r="1.6"/><circle cx="464.83" cy="124.44" r="1.6"/><circle cx="467.23" cy="125.28" r="1.6"/><circle cx="469.64" cy="126.12" r="1.6"/><circle cx="472.04" cy="126.97" r="1.6"/><circle cx="474.45" cy="127.83" r="1.6"/><circle cx="476.85" cy="128.69" r="1.6"/><circle cx="479.25" cy="129.56" r="1.6"/><circle cx="481.66" cy="130.43" r="1.6"/><circle cx="484.06" cy="131.32" r="1.6"/><circle cx="486.47" cy="132.20" r="1.6"/><circle cx="488.87" cy="133.10" r="1.6"/><circle cx="491.27" cy="133.99" r="1.6"/><circle cx="493.68" cy="134.90" r="1.6"/><circle cx="496.08" cy="135.81" r="1.6"/><circle cx="498.49" cy="136.73" r="1.6"/><circle cx="500.89" cy="137.65" r="1.6"/><circle cx="503.30" cy="138.58" r="1.6"/><circle cx="505.70" cy="139.52" r="1.6"/><circle cx="508.10" cy="140.46" r="1.6"/><circle cx="510.51" cy="141.41" r="1.6"/><circle cx="512.91" cy="142.36" r="1.6"/><circle cx="515.32" cy="143.32" r="1.6"/><circle cx="517.72" cy="144.29" r="1.6"/><circle cx="520.12" cy="145.26" r="1.6"/><circle cx="522.53" cy="146.24" r="1.6"/><circle cx="524.93" cy="147.23" r="1.6"/><circle cx="527.34" cy="148.22" r="1.6"/><circle cx="529.74" cy="149.21" r="1.6"/><circle cx="532.15" cy="150.22" r="1.6"/><circle cx="534.55" cy="151.23" r="1.6"/><circle cx="536.95" cy="152.24" r="1.6"/><circle cx="539.36" cy="153.26" r="1.6"/><circle cx="541.76" cy="154.29" r="1.6"/><circle cx="544.17" cy="155.33" r="1.6"/><circle cx="546.57" cy="156.36" r="1.6"/><circle cx="548.97" cy="157.41" r="1.6"/><circle cx="551.38" cy="158.46" r="1.6"/><circle cx="553.78" cy="159.52" r="1.6"/><circle cx="556.19" cy="160.58" r="1.6"/><circle cx="558.59" cy="161.66" r="1.6"/><circle cx="561.00" cy="162.73" r="1.6"/><circle cx="563.40" cy="163.81" r="1.6"/><circle cx="565.80" cy="164.90" r="1.6"/><circle cx="568.21" cy="166.00" r="1.6"/><circle cx="570.61" cy="167.10" r="1.6"/><circle cx="573.02" cy="168.20" r="1.6"/><circle cx="575.42" cy="169.32" r="1.6"/><circle cx="577.82" cy="170.44" r="1.6"/><circle cx="580.23" cy="171.56" r="1.6"/><circle cx="582.63" cy="172.69" r="1.6"/><circle cx="585.04" cy="173.83" r="1.6"/><circle cx="587.44" cy="174.97" r="1.6"/><circle cx="589.85" cy="176.12" r="1.6"/><circle cx="592.25" cy="177.28" r="1.6"/><circle cx="594.65" cy="178.44" r="1.6"/><circle cx="597.06" cy="179.61" r="1.6"/><circle cx="599.46" cy="180.78" r="1.6"/><circle cx="601.87" cy="181.96" r="1.6"/><circle cx="604.27" cy="183.15" r="1.6"/><circle cx="606.67" cy="184.34" r="1.6"/><circle cx="609.08" cy="185.54" r="1.6"/><circle cx="611.48" cy="186.74" r="1.6"/><circle cx="613.89" cy="187.96" r="1.6"/><circle cx="616.29" cy="189.17" r="1.6"/><circle cx="618.70" cy="190.39" r="1.6"/><circle cx="621.10" cy="191.62" r="1.6"/><circle cx="623.50" cy="192.86" r="1.6"/><circle cx="625.91" cy="194.10" r="1.6"/><circle cx="628.31" cy="195.35" r="1.6"/><circle cx="630.72" cy="196.60" r="1.6"/><circle cx="633.12" cy="197.86" r="1.6"/><circle cx="635.52" cy="199.13" r="1.6"/><circle cx="637.93" cy="200.40" r="1.6"/><circle cx="640.33" cy="201.67" r="1.6"/><circle cx="642.74" cy="202.96" r="1.6"/><circle cx="647.55" cy="205.54" r="1.6"/><circle cx="652.35" cy="208.16" r="1.6"/><circle cx="661.97" cy="213.45" r="1.6"/><circle cx="664.38" cy="214.79" r="1.6"/><circle cx="671.59" cy="218.84" r="1.6"/></g>
<rect x="41.5" y="356.5" width="293.80" height="256.50" fill="none" stroke="#4a4a4a" stroke-width="1.15"/>
<line x1="42.70" y1="613.0" x2="42.70" y2="619.30" stroke="#4a4a4a" stroke-width="1"/>
<text x="0" y="0" class="tk tkx" text-anchor="middle" transform="translate(42.70,635.60) scale(0.72,1)">0</text>
<line x1="90.82" y1="613.0" x2="90.82" y2="619.30" stroke="#4a4a4a" stroke-width="1"/>
<text x="0" y="0" class="tk tkx" text-anchor="middle" transform="translate(90.82,635.60) scale(0.72,1)">2</text>
<line x1="138.93" y1="613.0" x2="138.93" y2="619.30" stroke="#4a4a4a" stroke-width="1"/>
<text x="0" y="0" class="tk tkx" text-anchor="middle" transform="translate(138.93,635.60) scale(0.72,1)">4</text>
<line x1="187.05" y1="613.0" x2="187.05" y2="619.30" stroke="#4a4a4a" stroke-width="1"/>
<text x="0" y="0" class="tk tkx" text-anchor="middle" transform="translate(187.05,635.60) scale(0.72,1)">6</text>
<line x1="235.17" y1="613.0" x2="235.17" y2="619.30" stroke="#4a4a4a" stroke-width="1"/>
<text x="0" y="0" class="tk tkx" text-anchor="middle" transform="translate(235.17,635.60) scale(0.72,1)">8</text>
<line x1="283.28" y1="613.0" x2="283.28" y2="619.30" stroke="#4a4a4a" stroke-width="1"/>
<text x="0" y="0" class="tk tkx" text-anchor="middle" transform="translate(283.28,635.60) scale(0.72,1)">10</text>
<line x1="331.40" y1="613.0" x2="331.40" y2="619.30" stroke="#4a4a4a" stroke-width="1"/>
<text x="0" y="0" class="tk tkx" text-anchor="middle" transform="translate(331.40,635.60) scale(0.72,1)">12</text>
<line x1="35.20" y1="602.20" x2="41.5" y2="602.20" stroke="#4a4a4a" stroke-width="1"/>
<text x="0" y="0" class="tk tky" text-anchor="middle" transform="translate(27.10,602.20) rotate(-90) scale(0.9,1)">2500</text>
<line x1="35.20" y1="539.97" x2="41.5" y2="539.97" stroke="#4a4a4a" stroke-width="1"/>
<text x="0" y="0" class="tk tky" text-anchor="middle" transform="translate(27.10,539.97) rotate(-90) scale(0.9,1)">3000</text>
<line x1="35.20" y1="477.73" x2="41.5" y2="477.73" stroke="#4a4a4a" stroke-width="1"/>
<text x="0" y="0" class="tk tky" text-anchor="middle" transform="translate(27.10,477.73) rotate(-90) scale(0.9,1)">3500</text>
<line x1="35.20" y1="415.50" x2="41.5" y2="415.50" stroke="#4a4a4a" stroke-width="1"/>
<text x="0" y="0" class="tk tky" text-anchor="middle" transform="translate(27.10,415.50) rotate(-90) scale(0.9,1)">4000</text>
<text x="0" y="0" class="ti" text-anchor="middle" transform="translate(10.00,494.30) rotate(-90)">FEV1 (ml)</text>
<text x="191.10" y="651.90" class="ti" text-anchor="middle">serum uric acid (mg/dl)</text>
<text x="28.0" y="345.5" class="lt">c</text>
<g fill="#d8261e" stroke="none" opacity="1.0"><circle cx="52.32" cy="416.93" r="1.95"/><circle cx="61.95" cy="418.11" r="1.95"/><circle cx="93.22" cy="421.95" r="1.95"/><circle cx="95.63" cy="422.25" r="1.95"/><circle cx="98.03" cy="422.54" r="1.95"/><circle cx="107.66" cy="423.73" r="1.95"/><circle cx="110.06" cy="424.02" r="1.95"/><circle cx="117.28" cy="424.91" r="1.95"/><circle cx="119.69" cy="425.21" r="1.95"/><circle cx="122.09" cy="425.50" r="1.95"/><circle cx="124.50" cy="425.80" r="1.95"/><circle cx="126.90" cy="426.09" r="1.95"/><circle cx="129.31" cy="426.39" r="1.95"/><circle cx="131.72" cy="426.68" r="1.95"/><circle cx="134.12" cy="426.98" r="1.95"/><circle cx="136.53" cy="427.28" r="1.95"/><circle cx="138.93" cy="427.57" r="1.95"/><circle cx="141.34" cy="427.87" r="1.95"/><circle cx="143.75" cy="428.16" r="1.95"/><circle cx="146.15" cy="428.46" r="1.95"/><circle cx="148.56" cy="428.75" r="1.95"/><circle cx="150.96" cy="429.05" r="1.95"/><circle cx="153.37" cy="429.35" r="1.95"/><circle cx="155.77" cy="429.64" r="1.95"/><circle cx="158.18" cy="429.94" r="1.95"/><circle cx="160.59" cy="430.23" r="1.95"/><circle cx="162.99" cy="430.53" r="1.95"/><circle cx="165.40" cy="430.82" r="1.95"/><circle cx="167.80" cy="431.12" r="1.95"/><circle cx="170.21" cy="431.42" r="1.95"/><circle cx="172.62" cy="431.71" r="1.95"/><circle cx="175.02" cy="432.01" r="1.95"/><circle cx="177.43" cy="432.30" r="1.95"/><circle cx="179.83" cy="432.60" r="1.95"/><circle cx="182.24" cy="432.89" r="1.95"/><circle cx="184.64" cy="433.19" r="1.95"/><circle cx="187.05" cy="433.49" r="1.95"/><circle cx="189.46" cy="433.78" r="1.95"/><circle cx="191.86" cy="434.08" r="1.95"/><circle cx="194.27" cy="434.37" r="1.95"/><circle cx="196.67" cy="434.67" r="1.95"/><circle cx="199.08" cy="434.96" r="1.95"/><circle cx="201.49" cy="435.26" r="1.95"/><circle cx="203.89" cy="435.56" r="1.95"/><circle cx="206.30" cy="435.85" r="1.95"/><circle cx="208.70" cy="436.15" r="1.95"/><circle cx="211.11" cy="436.44" r="1.95"/><circle cx="213.51" cy="436.74" r="1.95"/><circle cx="215.92" cy="437.03" r="1.95"/><circle cx="218.33" cy="437.33" r="1.95"/><circle cx="220.73" cy="437.62" r="1.95"/><circle cx="223.14" cy="437.92" r="1.95"/><circle cx="225.54" cy="438.22" r="1.95"/><circle cx="227.95" cy="438.51" r="1.95"/><circle cx="230.36" cy="438.81" r="1.95"/><circle cx="232.76" cy="439.10" r="1.95"/><circle cx="235.17" cy="439.40" r="1.95"/><circle cx="237.57" cy="439.69" r="1.95"/><circle cx="239.98" cy="439.99" r="1.95"/><circle cx="242.38" cy="440.29" r="1.95"/><circle cx="244.79" cy="440.58" r="1.95"/><circle cx="247.20" cy="440.88" r="1.95"/><circle cx="249.60" cy="441.17" r="1.95"/><circle cx="252.01" cy="441.47" r="1.95"/><circle cx="254.41" cy="441.76" r="1.95"/><circle cx="256.82" cy="442.06" r="1.95"/><circle cx="259.23" cy="442.36" r="1.95"/><circle cx="261.63" cy="442.65" r="1.95"/><circle cx="264.04" cy="442.95" r="1.95"/><circle cx="266.44" cy="443.24" r="1.95"/><circle cx="268.85" cy="443.54" r="1.95"/><circle cx="271.25" cy="443.83" r="1.95"/><circle cx="273.66" cy="444.13" r="1.95"/><circle cx="276.07" cy="444.43" r="1.95"/><circle cx="278.47" cy="444.72" r="1.95"/><circle cx="280.88" cy="445.02" r="1.95"/><circle cx="283.28" cy="445.31" r="1.95"/><circle cx="285.69" cy="445.61" r="1.95"/><circle cx="288.09" cy="445.90" r="1.95"/><circle cx="290.50" cy="446.20" r="1.95"/><circle cx="292.91" cy="446.50" r="1.95"/><circle cx="300.12" cy="447.38" r="1.95"/><circle cx="304.94" cy="447.97" r="1.95"/><circle cx="314.56" cy="449.16" r="1.95"/><circle cx="324.18" cy="450.34" r="1.95"/></g>
<g fill="none" stroke="#74c4d6" stroke-width="0.8"><circle cx="78.79" cy="561.22" r="2.4"/><circle cx="83.60" cy="561.72" r="2.4"/><circle cx="86.00" cy="561.98" r="2.4"/><circle cx="88.41" cy="562.23" r="2.4"/><circle cx="90.82" cy="562.48" r="2.4"/><circle cx="93.22" cy="562.74" r="2.4"/><circle cx="95.63" cy="562.99" r="2.4"/><circle cx="98.03" cy="563.24" r="2.4"/><circle cx="100.44" cy="563.49" r="2.4"/><circle cx="102.85" cy="563.75" r="2.4"/><circle cx="105.25" cy="564.00" r="2.4"/><circle cx="107.66" cy="564.25" r="2.4"/><circle cx="110.06" cy="564.51" r="2.4"/><circle cx="112.47" cy="564.76" r="2.4"/><circle cx="114.88" cy="565.01" r="2.4"/><circle cx="117.28" cy="565.27" r="2.4"/><circle cx="119.69" cy="565.52" r="2.4"/><circle cx="122.09" cy="565.77" r="2.4"/><circle cx="124.50" cy="566.02" r="2.4"/><circle cx="126.90" cy="566.28" r="2.4"/><circle cx="129.31" cy="566.53" r="2.4"/><circle cx="131.72" cy="566.78" r="2.4"/><circle cx="134.12" cy="567.04" r="2.4"/><circle cx="136.53" cy="567.29" r="2.4"/><circle cx="138.93" cy="567.54" r="2.4"/><circle cx="141.34" cy="567.79" r="2.4"/><circle cx="143.75" cy="568.05" r="2.4"/><circle cx="146.15" cy="568.30" r="2.4"/><circle cx="148.56" cy="568.55" r="2.4"/><circle cx="150.96" cy="568.81" r="2.4"/><circle cx="153.37" cy="569.06" r="2.4"/><circle cx="155.77" cy="569.31" r="2.4"/><circle cx="158.18" cy="569.56" r="2.4"/><circle cx="160.59" cy="569.82" r="2.4"/><circle cx="162.99" cy="570.07" r="2.4"/><circle cx="165.40" cy="570.32" r="2.4"/><circle cx="167.80" cy="570.58" r="2.4"/><circle cx="170.21" cy="570.83" r="2.4"/><circle cx="172.62" cy="571.08" r="2.4"/><circle cx="175.02" cy="571.33" r="2.4"/><circle cx="177.43" cy="571.59" r="2.4"/><circle cx="179.83" cy="571.84" r="2.4"/><circle cx="182.24" cy="572.09" r="2.4"/><circle cx="184.64" cy="572.35" r="2.4"/><circle cx="187.05" cy="572.60" r="2.4"/><circle cx="189.46" cy="572.85" r="2.4"/><circle cx="191.86" cy="573.10" r="2.4"/><circle cx="194.27" cy="573.36" r="2.4"/><circle cx="196.67" cy="573.61" r="2.4"/><circle cx="199.08" cy="573.86" r="2.4"/><circle cx="201.49" cy="574.12" r="2.4"/><circle cx="203.89" cy="574.37" r="2.4"/><circle cx="206.30" cy="574.62" r="2.4"/><circle cx="208.70" cy="574.88" r="2.4"/><circle cx="211.11" cy="575.13" r="2.4"/><circle cx="213.51" cy="575.38" r="2.4"/><circle cx="215.92" cy="575.63" r="2.4"/><circle cx="218.33" cy="575.89" r="2.4"/><circle cx="220.73" cy="576.14" r="2.4"/><circle cx="223.14" cy="576.39" r="2.4"/><circle cx="225.54" cy="576.65" r="2.4"/><circle cx="227.95" cy="576.90" r="2.4"/><circle cx="230.36" cy="577.15" r="2.4"/><circle cx="232.76" cy="577.40" r="2.4"/><circle cx="235.17" cy="577.66" r="2.4"/><circle cx="237.57" cy="577.91" r="2.4"/><circle cx="239.98" cy="578.16" r="2.4"/><circle cx="242.38" cy="578.42" r="2.4"/><circle cx="244.79" cy="578.67" r="2.4"/><circle cx="247.20" cy="578.92" r="2.4"/><circle cx="249.60" cy="579.17" r="2.4"/><circle cx="252.01" cy="579.43" r="2.4"/><circle cx="254.41" cy="579.68" r="2.4"/><circle cx="256.82" cy="579.93" r="2.4"/><circle cx="261.63" cy="580.44" r="2.4"/><circle cx="271.25" cy="581.45" r="2.4"/><circle cx="276.07" cy="581.96" r="2.4"/><circle cx="278.47" cy="582.21" r="2.4"/><circle cx="280.88" cy="582.46" r="2.4"/><circle cx="295.31" cy="583.98" r="2.4"/><circle cx="316.96" cy="586.26" r="2.4"/></g>
<rect x="388.3" y="356.4" width="293.30" height="256.50" fill="none" stroke="#4a4a4a" stroke-width="1.15"/>
<line x1="389.40" y1="612.9" x2="389.40" y2="619.20" stroke="#4a4a4a" stroke-width="1"/>
<text x="0" y="0" class="tk tkx" text-anchor="middle" transform="translate(389.40,635.50) scale(0.72,1)">0</text>
<line x1="437.52" y1="612.9" x2="437.52" y2="619.20" stroke="#4a4a4a" stroke-width="1"/>
<text x="0" y="0" class="tk tkx" text-anchor="middle" transform="translate(437.52,635.50) scale(0.72,1)">2</text>
<line x1="485.63" y1="612.9" x2="485.63" y2="619.20" stroke="#4a4a4a" stroke-width="1"/>
<text x="0" y="0" class="tk tkx" text-anchor="middle" transform="translate(485.63,635.50) scale(0.72,1)">4</text>
<line x1="533.75" y1="612.9" x2="533.75" y2="619.20" stroke="#4a4a4a" stroke-width="1"/>
<text x="0" y="0" class="tk tkx" text-anchor="middle" transform="translate(533.75,635.50) scale(0.72,1)">6</text>
<line x1="581.87" y1="612.9" x2="581.87" y2="619.20" stroke="#4a4a4a" stroke-width="1"/>
<text x="0" y="0" class="tk tkx" text-anchor="middle" transform="translate(581.87,635.50) scale(0.72,1)">8</text>
<line x1="629.98" y1="612.9" x2="629.98" y2="619.20" stroke="#4a4a4a" stroke-width="1"/>
<text x="0" y="0" class="tk tkx" text-anchor="middle" transform="translate(629.98,635.50) scale(0.72,1)">10</text>
<line x1="678.10" y1="612.9" x2="678.10" y2="619.20" stroke="#4a4a4a" stroke-width="1"/>
<text x="0" y="0" class="tk tkx" text-anchor="middle" transform="translate(678.10,635.50) scale(0.72,1)">12</text>
<line x1="382.00" y1="595.20" x2="388.3" y2="595.20" stroke="#4a4a4a" stroke-width="1"/>
<text x="0" y="0" class="tk tky" text-anchor="middle" transform="translate(373.90,595.20) rotate(-90) scale(0.9,1)">3000</text>
<line x1="382.00" y1="548.16" x2="388.3" y2="548.16" stroke="#4a4a4a" stroke-width="1"/>
<text x="0" y="0" class="tk tky" text-anchor="middle" transform="translate(373.90,548.16) rotate(-90) scale(0.9,1)">3500</text>
<line x1="382.00" y1="501.12" x2="388.3" y2="501.12" stroke="#4a4a4a" stroke-width="1"/>
<text x="0" y="0" class="tk tky" text-anchor="middle" transform="translate(373.90,501.12) rotate(-90) scale(0.9,1)">4000</text>
<line x1="382.00" y1="454.08" x2="388.3" y2="454.08" stroke="#4a4a4a" stroke-width="1"/>
<text x="0" y="0" class="tk tky" text-anchor="middle" transform="translate(373.90,454.08) rotate(-90) scale(0.9,1)">4500</text>
<line x1="382.00" y1="407.04" x2="388.3" y2="407.04" stroke="#4a4a4a" stroke-width="1"/>
<text x="0" y="0" class="tk tky" text-anchor="middle" transform="translate(373.90,407.04) rotate(-90) scale(0.9,1)">5000</text>
<line x1="382.00" y1="360.00" x2="388.3" y2="360.00" stroke="#4a4a4a" stroke-width="1"/>
<text x="0" y="0" class="tk tky" text-anchor="middle" transform="translate(373.90,360.00) rotate(-90) scale(0.9,1)">5500</text>
<text x="0" y="0" class="ti" text-anchor="middle" transform="translate(356.60,490.30) rotate(-90)">FVC (ml)</text>
<text x="537.30" y="652.20" class="ti" text-anchor="middle">serum uric acid (mg/dl)</text>
<text x="382.3" y="343.8" class="lt">d</text>
<g fill="#d8261e" stroke="none" opacity="1.0"><circle cx="399.02" cy="416.83" r="1.95"/><circle cx="408.65" cy="417.50" r="1.95"/><circle cx="439.92" cy="419.90" r="1.95"/><circle cx="442.33" cy="420.09" r="1.95"/><circle cx="444.73" cy="420.29" r="1.95"/><circle cx="454.36" cy="421.10" r="1.95"/><circle cx="456.76" cy="421.31" r="1.95"/><circle cx="463.98" cy="421.94" r="1.95"/><circle cx="466.39" cy="422.15" r="1.95"/><circle cx="468.79" cy="422.37" r="1.95"/><circle cx="471.20" cy="422.59" r="1.95"/><circle cx="473.60" cy="422.81" r="1.95"/><circle cx="476.01" cy="423.03" r="1.95"/><circle cx="478.42" cy="423.25" r="1.95"/><circle cx="480.82" cy="423.48" r="1.95"/><circle cx="483.23" cy="423.70" r="1.95"/><circle cx="485.63" cy="423.93" r="1.95"/><circle cx="488.04" cy="424.16" r="1.95"/><circle cx="490.44" cy="424.40" r="1.95"/><circle cx="492.85" cy="424.63" r="1.95"/><circle cx="495.26" cy="424.86" r="1.95"/><circle cx="497.66" cy="425.10" r="1.95"/><circle cx="500.07" cy="425.34" r="1.95"/><circle cx="502.47" cy="425.58" r="1.95"/><circle cx="504.88" cy="425.82" r="1.95"/><circle cx="507.29" cy="426.07" r="1.95"/><circle cx="509.69" cy="426.32" r="1.95"/><circle cx="512.10" cy="426.56" r="1.95"/><circle cx="514.50" cy="426.81" r="1.95"/><circle cx="516.91" cy="427.07" r="1.95"/><circle cx="519.32" cy="427.32" r="1.95"/><circle cx="521.72" cy="427.57" r="1.95"/><circle cx="524.13" cy="427.83" r="1.95"/><circle cx="526.53" cy="428.09" r="1.95"/><circle cx="528.94" cy="428.35" r="1.95"/><circle cx="531.34" cy="428.61" r="1.95"/><circle cx="533.75" cy="428.88" r="1.95"/><circle cx="536.16" cy="429.14" r="1.95"/><circle cx="538.56" cy="429.41" r="1.95"/><circle cx="540.97" cy="429.68" r="1.95"/><circle cx="543.37" cy="429.95" r="1.95"/><circle cx="545.78" cy="430.22" r="1.95"/><circle cx="548.18" cy="430.50" r="1.95"/><circle cx="550.59" cy="430.78" r="1.95"/><circle cx="553.00" cy="431.05" r="1.95"/><circle cx="555.40" cy="431.33" r="1.95"/><circle cx="557.81" cy="431.62" r="1.95"/><circle cx="560.21" cy="431.90" r="1.95"/><circle cx="562.62" cy="432.18" r="1.95"/><circle cx="565.03" cy="432.47" r="1.95"/><circle cx="567.43" cy="432.76" r="1.95"/><circle cx="569.84" cy="433.05" r="1.95"/><circle cx="572.24" cy="433.34" r="1.95"/><circle cx="574.65" cy="433.64" r="1.95"/><circle cx="577.06" cy="433.93" r="1.95"/><circle cx="579.46" cy="434.23" r="1.95"/><circle cx="581.87" cy="434.53" r="1.95"/><circle cx="584.27" cy="434.83" r="1.95"/><circle cx="586.68" cy="435.14" r="1.95"/><circle cx="589.08" cy="435.44" r="1.95"/><circle cx="591.49" cy="435.75" r="1.95"/><circle cx="593.90" cy="436.06" r="1.95"/><circle cx="596.30" cy="436.37" r="1.95"/><circle cx="598.71" cy="436.68" r="1.95"/><circle cx="601.11" cy="436.99" r="1.95"/><circle cx="603.52" cy="437.31" r="1.95"/><circle cx="605.92" cy="437.63" r="1.95"/><circle cx="608.33" cy="437.95" r="1.95"/><circle cx="610.74" cy="438.27" r="1.95"/><circle cx="613.14" cy="438.59" r="1.95"/><circle cx="615.55" cy="438.91" r="1.95"/><circle cx="617.95" cy="439.24" r="1.95"/><circle cx="620.36" cy="439.57" r="1.95"/><circle cx="622.77" cy="439.90" r="1.95"/><circle cx="625.17" cy="440.23" r="1.95"/><circle cx="627.58" cy="440.56" r="1.95"/><circle cx="629.98" cy="440.90" r="1.95"/><circle cx="632.39" cy="441.24" r="1.95"/><circle cx="634.79" cy="441.58" r="1.95"/><circle cx="637.20" cy="441.92" r="1.95"/><circle cx="639.61" cy="442.26" r="1.95"/><circle cx="646.82" cy="443.30" r="1.95"/><circle cx="651.64" cy="444.00" r="1.95"/><circle cx="661.26" cy="445.42" r="1.95"/><circle cx="670.88" cy="446.87" r="1.95"/></g>
<g fill="none" stroke="#74c4d6" stroke-width="0.8"><circle cx="425.49" cy="551.76" r="2.4"/><circle cx="430.30" cy="552.23" r="2.4"/><circle cx="432.70" cy="552.46" r="2.4"/><circle cx="435.11" cy="552.70" r="2.4"/><circle cx="437.52" cy="552.94" r="2.4"/><circle cx="439.92" cy="553.19" r="2.4"/><circle cx="442.33" cy="553.43" r="2.4"/><circle cx="444.73" cy="553.68" r="2.4"/><circle cx="447.14" cy="553.93" r="2.4"/><circle cx="449.55" cy="554.19" r="2.4"/><circle cx="451.95" cy="554.45" r="2.4"/><circle cx="454.36" cy="554.70" r="2.4"/><circle cx="456.76" cy="554.97" r="2.4"/><circle cx="459.17" cy="555.23" r="2.4"/><circle cx="461.57" cy="555.50" r="2.4"/><circle cx="463.98" cy="555.76" r="2.4"/><circle cx="466.39" cy="556.04" r="2.4"/><circle cx="468.79" cy="556.31" r="2.4"/><circle cx="471.20" cy="556.59" r="2.4"/><circle cx="473.60" cy="556.87" r="2.4"/><circle cx="476.01" cy="557.15" r="2.4"/><circle cx="478.42" cy="557.43" r="2.4"/><circle cx="480.82" cy="557.72" r="2.4"/><circle cx="483.23" cy="558.01" r="2.4"/><circle cx="485.63" cy="558.30" r="2.4"/><circle cx="488.04" cy="558.59" r="2.4"/><circle cx="490.44" cy="558.89" r="2.4"/><circle cx="492.85" cy="559.19" r="2.4"/><circle cx="495.26" cy="559.49" r="2.4"/><circle cx="497.66" cy="559.79" r="2.4"/><circle cx="500.07" cy="560.10" r="2.4"/><circle cx="502.47" cy="560.41" r="2.4"/><circle cx="504.88" cy="560.72" r="2.4"/><circle cx="507.29" cy="561.03" r="2.4"/><circle cx="509.69" cy="561.35" r="2.4"/><circle cx="512.10" cy="561.67" r="2.4"/><circle cx="514.50" cy="561.99" r="2.4"/><circle cx="516.91" cy="562.31" r="2.4"/><circle cx="519.32" cy="562.64" r="2.4"/><circle cx="521.72" cy="562.97" r="2.4"/><circle cx="524.13" cy="563.30" r="2.4"/><circle cx="526.53" cy="563.63" r="2.4"/><circle cx="528.94" cy="563.97" r="2.4"/><circle cx="531.34" cy="564.30" r="2.4"/><circle cx="533.75" cy="564.65" r="2.4"/><circle cx="536.16" cy="564.99" r="2.4"/><circle cx="538.56" cy="565.34" r="2.4"/><circle cx="540.97" cy="565.68" r="2.4"/><circle cx="543.37" cy="566.04" r="2.4"/><circle cx="545.78" cy="566.39" r="2.4"/><circle cx="548.18" cy="566.74" r="2.4"/><circle cx="550.59" cy="567.10" r="2.4"/><circle cx="553.00" cy="567.46" r="2.4"/><circle cx="555.40" cy="567.83" r="2.4"/><circle cx="557.81" cy="568.19" r="2.4"/><circle cx="560.21" cy="568.56" r="2.4"/><circle cx="562.62" cy="568.93" r="2.4"/><circle cx="565.03" cy="569.31" r="2.4"/><circle cx="567.43" cy="569.68" r="2.4"/><circle cx="569.84" cy="570.06" r="2.4"/><circle cx="572.24" cy="570.44" r="2.4"/><circle cx="574.65" cy="570.83" r="2.4"/><circle cx="577.06" cy="571.21" r="2.4"/><circle cx="579.46" cy="571.60" r="2.4"/><circle cx="581.87" cy="571.99" r="2.4"/><circle cx="584.27" cy="572.38" r="2.4"/><circle cx="586.68" cy="572.78" r="2.4"/><circle cx="589.08" cy="573.18" r="2.4"/><circle cx="591.49" cy="573.58" r="2.4"/><circle cx="593.90" cy="573.98" r="2.4"/><circle cx="596.30" cy="574.39" r="2.4"/><circle cx="598.71" cy="574.80" r="2.4"/><circle cx="601.11" cy="575.21" r="2.4"/><circle cx="603.52" cy="575.62" r="2.4"/><circle cx="608.33" cy="576.45" r="2.4"/><circle cx="617.95" cy="578.15" r="2.4"/><circle cx="622.77" cy="579.02" r="2.4"/><circle cx="625.17" cy="579.45" r="2.4"/><circle cx="627.58" cy="579.89" r="2.4"/><circle cx="642.01" cy="582.57" r="2.4"/><circle cx="663.66" cy="586.76" r="2.4"/></g>
<text x="0" y="0" class="lg" transform="translate(77.80,378.6) scale(0.56,1)">Sex</text>
<circle cx="61.30" cy="390.9" r="1.75" fill="#d8261e"/>
<text x="0" y="0" class="lg" transform="translate(81.30,396.1) scale(0.56,1)">Male</text>
<circle cx="61.30" cy="403.0" r="2.3" fill="none" stroke="#74c4d6" stroke-width="1"/>
<text x="0" y="0" class="lg" transform="translate(81.80,408.0) scale(0.56,1)">Female</text>
<text x="0" y="0" class="lg" transform="translate(424.60,378.6) scale(0.56,1)">Sex</text>
<circle cx="408.10" cy="390.9" r="1.75" fill="#d8261e"/>
<text x="0" y="0" class="lg" transform="translate(428.10,396.1) scale(0.56,1)">Male</text>
<circle cx="408.10" cy="403.0" r="2.3" fill="none" stroke="#74c4d6" stroke-width="1"/>
<text x="0" y="0" class="lg" transform="translate(428.60,408.0) scale(0.56,1)">Female</text>
</g>
</svg>
</body></html>
